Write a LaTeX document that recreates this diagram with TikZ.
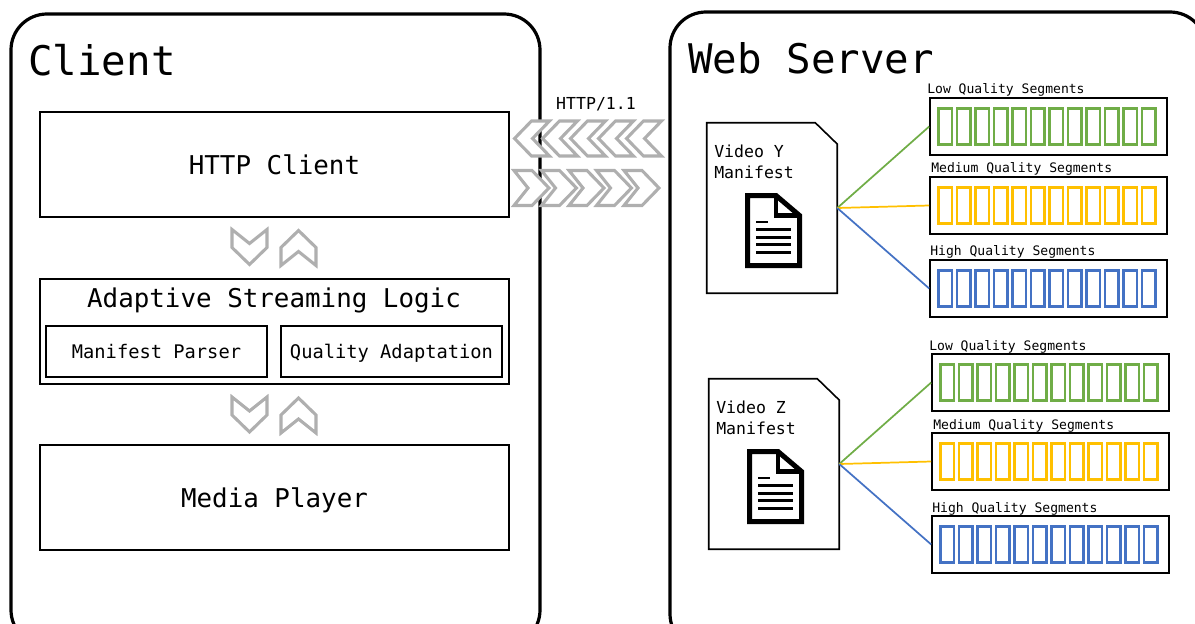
\documentclass[tikz,border=0pt]{standalone}
\usepackage{fontspec}
\setmonofont{DejaVu Sans Mono}
\definecolor{lowcol}{HTML}{70AD47}
\definecolor{medcol}{HTML}{FFC000}
\definecolor{highcol}{HTML}{4472C4}
\definecolor{chevcol}{HTML}{AFAFAF}
\tikzset{
  panel/.style={draw,line width=2.4pt,rounded corners=27pt,inner sep=0pt},
  block/.style={draw,line width=2pt,inner sep=0pt,text depth=0pt,font=\ttfamily\fontsize{19.4}{23}\selectfont},
  subblock/.style={draw,line width=1.8pt,inner sep=0pt,text depth=0pt,font=\ttfamily\fontsize{14.05}{17}\selectfont},
  title/.style={anchor=west,inner sep=0pt,font=\ttfamily\fontsize{30.6}{36}\selectfont},
  manifest/.style={inner sep=0pt,minimum width=97.5pt,minimum height=127.5pt},
  segbox/.style={draw,line width=1.2pt,inner sep=0pt,minimum width=177.75pt,minimum height=42.75pt},
  seglabel/.style={anchor=west,inner sep=0pt,text depth=0pt,font=\ttfamily\fontsize{9.8}{12}\selectfont},
  small/.style={inner sep=0pt,font=\ttfamily\fontsize{12.4}{15.75}\selectfont},
  pics/chevron/.style={code={
    \draw[chevcol,fill=white,line width=2.3pt,miter limit=6]
      (0,-17.5) -- (18,-17.5) -- (35,0) -- (18,17.5) -- (0,17.5) -- (#1,0) -- cycle;
  }}
}
\begin{document}
\begin{tikzpicture}[x=0.75pt,y=-0.75pt]
  \useasboundingbox (0,0) rectangle (1195,624);
  \clip (0,0) rectangle (1195,624);
  \node[panel,minimum width=396.75pt,minimum height=474pt] (client) at (275.5,330) {};
  \node[panel,minimum width=402pt,minimum height=478.5pt] (server) at (938,331) {};
  \node[title] (clienttitle) at (28,60) {Client};
  \node[title] (servertitle) at (688,58) {Web Server};

  \node[block,minimum width=351.75pt,minimum height=78.75pt] (http) at (274.5,164.5) {HTTP Client};
  \node[block,minimum width=351.75pt,minimum height=78.75pt] (logic) at (274.5,331.5) {};
  \node[block,draw=none,minimum width=0pt,minimum height=0pt] (logictitle) at (274,298) {Adaptive Streaming Logic};
  \node[subblock,minimum width=165.75pt,minimum height=38.25pt] (parser) at (156.5,351.5) {Manifest Parser};
  \node[subblock,minimum width=165.75pt,minimum height=38.25pt] (quality) at (391.5,351.5) {Quality Adaptation};
  \node[block,minimum width=351.75pt,minimum height=78.75pt] (player) at (274.5,497.5) {Media Player};

  % chevrons between client and server
  \foreach \i in {0,...,4} {
    \pic[rotate=180] at ({661.5-28*\i},138.5) {chevron=17};
    \pic at ({624-27.5*\i},188) {chevron=14};
  }
  \node[small] (proto) at (596,104) {HTTP/1.1};

  % chevrons between the client blocks
  \foreach \y in {0,167.5} {
    \pic[rotate=-90] at (249.5,229.5+\y) {chevron=14};
    \pic[rotate=90] at (298.5,265.5+\y) {chevron=14};
  }

  % two videos, three qualities each
  \foreach \v/\dx/\dy in {Y/0/0,Z/2/256} {
    \begin{scope}[shift={(\dx,\dy)}]
      \node[manifest] (manifest\v) at (772,208) {};
      \draw[line width=1.2pt] (manifest\v.north west) -- ([xshift=-16.5pt]manifest\v.north east)
        -- ([yshift=-16pt]manifest\v.north east) -- (manifest\v.south east)
        -- (manifest\v.south west) -- cycle;
      \node[small,anchor=west,align=left] (name\v) at (714,161.5) {Video \v\\Manifest};
      \draw[line width=3.75pt,miter limit=6]
        (747.5,195.5) -- (776,195.5) -- (799.5,215.5) -- (799.5,265.5) -- (747.5,265.5) -- cycle;
      \draw[line width=3.4pt] (776,195.5) -- (776,215.5) -- (800,215.5);
      \draw[line width=2.2pt] (756,222) -- (768,222);
      \foreach \l in {229.7,237.3,244.7,252.3}
        \draw[line width=2.2pt] (756,\l) -- (791,\l);
      \foreach \q/\c/\m/\y/\lx/\ly in {low/lowcol/Low/126.5/927/89,
                                       med/medcol/Medium/205.5/931/168,
                                       high/highcol/High/288.5/930/251} {
        \node[segbox] (\q\v) at (1048.5,\y) {};
        \node[seglabel] (label\q\v) at (\lx,\ly) {\m{} Quality Segments};
        \draw[\c,line width=1.3pt] (manifest\v.east) -- (\q\v.west);
        \foreach \b in {0,...,11}
          \draw[\c,line width=1.7pt] ({938.5+18.5*\b},\y-18) rectangle ++(13.5,36);
      }
    \end{scope}
  }
\end{tikzpicture}
\end{document}
